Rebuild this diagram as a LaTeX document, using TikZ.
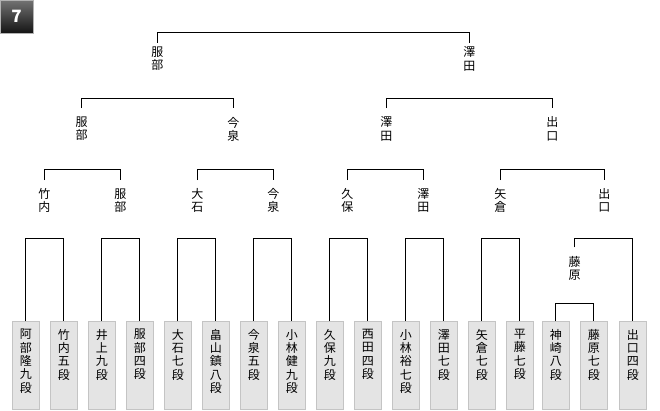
\documentclass[tikz,border=0pt]{standalone}
\usepackage{fontspec}
\setmainfont{Noto Sans CJK JP}
\usepackage{tikz}
\usetikzlibrary{positioning}
\definecolor{boxfill}{HTML}{E4E4E4}
\definecolor{boxline}{HTML}{C4C4C4}
\newcommand{\kisi}[1]{\parbox[c][72pt][t]{14pt}{\centering #1}}
\tikzset{
  player/.style={draw=boxline, fill=boxfill, anchor=north, minimum width=27pt,
                 minimum height=88pt, inner sep=0pt, font=\fontsize{12}{13.3}\selectfont},
  win/.style={anchor=north, align=center, inner sep=0pt, font=\fontsize{12}{13.3}\selectfont},
  brk/.style={draw=black, line width=1pt},
  badge/.style={draw=gray!60, top color=black!55, bottom color=black!92, text=white,
                minimum size=33pt, inner sep=0pt, font=\fontsize{17}{17}\selectfont\bfseries},
}
\begin{document}
\begin{tikzpicture}[x=1pt, y=-1pt]
  \useasboundingbox (0,0) rectangle (660,410);
  % round number
  \node[badge] (no) at (16.5,16.5) {7};
  % players
  \node[player] (p1) at (25.8,321) {\kisi{阿\\部\\隆\\九\\段}};
  \node[player] (p2) at (63.8,321) {\kisi{竹\\内\\五\\段}};
  \node[player] (p3) at (101.8,321) {\kisi{井\\上\\九\\段}};
  \node[player] (p4) at (139.8,321) {\kisi{服\\部\\四\\段}};
  \node[player] (p5) at (177.8,321) {\kisi{大\\石\\七\\段}};
  \node[player] (p6) at (215.8,321) {\kisi{畠\\山\\鎮\\八\\段}};
  \node[player] (p7) at (253.8,321) {\kisi{今\\泉\\五\\段}};
  \node[player] (p8) at (291.8,321) {\kisi{小\\林\\健\\九\\段}};
  \node[player] (p9) at (329.8,321) {\kisi{久\\保\\九\\段}};
  \node[player] (p10) at (367.8,321) {\kisi{西\\田\\四\\段}};
  \node[player] (p11) at (405.8,321) {\kisi{小\\林\\裕\\七\\段}};
  \node[player] (p12) at (443.8,321) {\kisi{澤\\田\\七\\段}};
  \node[player] (p13) at (481.8,321) {\kisi{矢\\倉\\七\\段}};
  \node[player] (p14) at (519.8,321) {\kisi{平\\藤\\七\\段}};
  \node[player] (p15) at (555.8,321) {\kisi{神\\崎\\八\\段}};
  \node[player] (p16) at (593.8,321) {\kisi{藤\\原\\七\\段}};
  \node[player] (p17) at (632.8,321) {\kisi{出\\口\\四\\段}};
  % winners
  \node[win] (e) at (574.5,256) {藤\\原};
  \node[win] (q1) at (44.3,188.3) {竹\\内};
  \node[win] (q2) at (120.3,188.3) {服\\部};
  \node[win] (q3) at (197.3,188.3) {大\\石};
  \node[win] (q4) at (273.3,188.3) {今\\泉};
  \node[win] (q5) at (347.3,188.3) {久\\保};
  \node[win] (q6) at (423.3,188.3) {澤\\田};
  \node[win] (q7) at (500.3,188.3) {矢\\倉};
  \node[win] (q8) at (604.3,188.3) {出\\口};
  \node[win] (h1) at (81.7,116.7) {服\\部};
  \node[win] (h2) at (233.3,116.7) {今\\泉};
  \node[win] (h3) at (386.3,116.7) {澤\\田};
  \node[win] (h4) at (552.3,116.7) {出\\口};
  \node[win] (f1) at (157.3,46.7) {服\\部};
  \node[win] (f2) at (469.3,46.7) {澤\\田};
  % first round
  \draw[brk] (p15.north) -- ++(0,-17.7) -| (p16.north);
  \draw[brk] (p1.north) -- ++(0,-82.7) -| (p2.north);
  \draw[brk] (p3.north) -- ++(0,-82.7) -| (p4.north);
  \draw[brk] (p5.north) -- ++(0,-82.7) -| (p6.north);
  \draw[brk] (p7.north) -- ++(0,-82.7) -| (p8.north);
  \draw[brk] (p9.north) -- ++(0,-82.7) -| (p10.north);
  \draw[brk] (p11.north) -- ++(0,-82.7) -| (p12.north);
  \draw[brk] (p13.north) -- ++(0,-82.7) -| (p14.north);
  \draw[brk, shorten <=8.7pt] (e.north) -- ++(0,-17.7) -| (p17.north);
  % later rounds
  \draw[brk, shorten <=8.3pt, shorten >=8.3pt] (q1.north) -- ++(0,-19) -| (q2.north);
  \draw[brk, shorten <=8.3pt, shorten >=8.3pt] (q3.north) -- ++(0,-19) -| (q4.north);
  \draw[brk, shorten <=8.3pt, shorten >=8.3pt] (q5.north) -- ++(0,-19) -| (q6.north);
  \draw[brk, shorten <=8.3pt, shorten >=8.3pt] (q7.north) -- ++(0,-19) -| (q8.north);
  \draw[brk, shorten <=8.5pt, shorten >=8.5pt] (h1.north) -- ++(0,-18) -| (h2.north);
  \draw[brk, shorten <=8.5pt, shorten >=8.5pt] (h3.north) -- ++(0,-18) -| (h4.north);
  \draw[brk, shorten <=4pt, shorten >=4pt] (f1.north) -- ++(0,-14.4) -| (f2.north);
\end{tikzpicture}
\end{document}
